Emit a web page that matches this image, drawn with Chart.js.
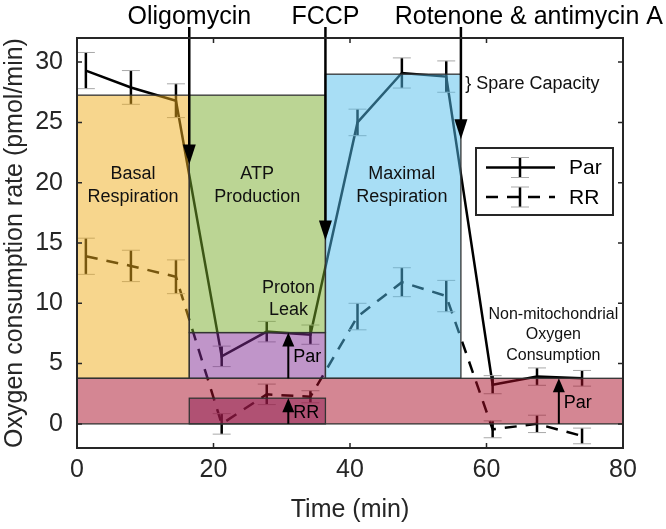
<!DOCTYPE html>
<html>
<head>
<meta charset="utf-8">
<script src="https://cdn.jsdelivr.net/npm/chart.js@4/dist/chart.umd.min.js"></script>
<style>
  html, body { margin: 0; padding: 0; background: #fff; }
</style>
</head>
<body>
<canvas id="chart" width="666" height="529"></canvas>
<script>
// measurement times (min)
const times = [1.3, 7.9, 14.5, 21.2, 27.8, 34.2, 41.1, 47.6, 54.1, 60.9, 67.4, 74.0]

// oxygen consumption rate, mean and error
const parOcr = [29.3, 27.9, 26.8, 5.6, 7.65, 7.4, 25.0, 29.1, 28.8, 3.25, 3.92, 3.78]
const parErr = [1.5, 1.4, 1.4, 0.85, 0.85, 0.8, 1.1, 1.25, 1.3, 0.75, 0.72, 0.65]
const rrOcr = [13.9, 13.1, 12.2, 0.0, 2.45, 2.25, 8.9, 11.75, 10.6, -0.45, 0.0, -1.0]
const rrErr = [1.5, 1.3, 1.4, 0.85, 0.85, 0.5, 1.1, 1.2, 1.3, 0.7, 0.72, 0.65]

const xTicks = [0, 20, 40, 60, 80]
const yTicks = [0, 5, 10, 15, 20, 25, 30]

// injections
const injections = ['Oligomycin', 'FCCP', 'Rotenone & antimycin A']
const injectionTimes = [16.45, 36.4, 56.25]
const arrowTips = [21.5, 15.2, 23.6]

// shaded blocks: basal, ATP, proton leak, maximal, non-mito, RR leak
const blockStart = [0, 16.45, 16.45, 36.4, 0, 16.45]
const blockEnd = [16.45, 36.4, 36.4, 56.25, 80, 36.4]
const blockLow = [3.78, 7.57, 3.78, 3.78, 0, 0]
const blockHigh = [27.26, 27.26, 7.57, 29.0, 3.78, 2.13]

// little up arrows (Par / RR levels)
const levelLabels = ['Par', 'RR', 'Par']
const levelX = [30.96, 30.96, 70.6]
const levelLow = [3.78, 0, 0]
const levelHigh = [7.57, 2.13, 3.78]

const FONT = '"Liberation Sans", Arial, sans-serif'
const AXIS = '#262626'
const blockFill = [
  'rgba(239,173,27,0.5)',
  'rgba(119,171,41,0.5)',
  'rgba(129,43,147,0.5)',
  'rgba(81,189,235,0.5)',
  'rgba(169,13,39,0.5)',
  'rgba(142,30,83,0.5)'
]

const annotate = {
  id: 'annotate',
  afterDatasetsDraw(chart) {
    const ctx = chart.ctx
    const xs = chart.scales.x, ys = chart.scales.y
    const area = chart.chartArea
    const px = v => xs.getPixelForValue(v)
    const py = v => ys.getPixelForValue(v)

    ctx.save()
    // error bars
    const series = [[parOcr, parErr], [rrOcr, rrErr]]
    series.forEach(([vals, errs]) => {
      times.forEach((t, i) => {
        const x = px(t), top = py(vals[i] + errs[i]), bot = py(vals[i] - errs[i])
        ctx.strokeStyle = '#000'
        ctx.lineWidth = 2.5
        ctx.beginPath(); ctx.moveTo(x, top); ctx.lineTo(x, bot); ctx.stroke()
        ctx.strokeStyle = '#a8a8a8'
        ctx.lineWidth = 1
        ctx.beginPath()
        ctx.moveTo(x - 9, top); ctx.lineTo(x + 9, top)
        ctx.moveTo(x - 9, bot); ctx.lineTo(x + 9, bot)
        ctx.stroke()
      })
    })

    // shaded blocks
    blockStart.forEach((s, i) => {
      const x0 = px(s), x1 = px(blockEnd[i]), y0 = py(blockHigh[i]), y1 = py(blockLow[i])
      ctx.fillStyle = blockFill[i]
      ctx.fillRect(x0, y0, x1 - x0, y1 - y0)
    })
    ctx.strokeStyle = '#333'
    ctx.lineWidth = 1.3
    blockStart.forEach((s, i) => {
      const x0 = px(s), x1 = px(blockEnd[i]), y0 = py(blockHigh[i]), y1 = py(blockLow[i])
      ctx.strokeRect(x0, y0, x1 - x0, y1 - y0)
    })

    // injection arrows
    ctx.fillStyle = '#000'
    ctx.strokeStyle = '#000'
    injectionTimes.forEach((t, i) => {
      const x = px(t), tip = py(arrowTips[i])
      ctx.lineWidth = 2.5
      ctx.beginPath(); ctx.moveTo(x, area.top - 11); ctx.lineTo(x, tip - 18); ctx.stroke()
      ctx.beginPath()
      ctx.moveTo(x - 6.5, tip - 20); ctx.lineTo(x + 6.5, tip - 20); ctx.lineTo(x, tip)
      ctx.closePath(); ctx.fill()
    })
    ctx.font = '25px ' + FONT
    ctx.textBaseline = 'middle'
    ctx.textAlign = 'center'
    ctx.fillText(injections[0], px(injectionTimes[0]), area.top - 21)
    ctx.fillText(injections[1], px(injectionTimes[1]), area.top - 21)
    ctx.fillText(injections[2], px(66.2), area.top - 21)

    // level arrows
    levelX.forEach((lx, i) => {
      const x = px(lx), lo = py(levelLow[i]), hi = py(levelHigh[i])
      ctx.lineWidth = 2
      ctx.beginPath(); ctx.moveTo(x, lo); ctx.lineTo(x, hi + 12); ctx.stroke()
      ctx.beginPath()
      ctx.moveTo(x - 6, hi + 14); ctx.lineTo(x + 6, hi + 14); ctx.lineTo(x, hi)
      ctx.closePath(); ctx.fill()
      ctx.font = '18px ' + FONT
      ctx.textAlign = 'left'
      ctx.fillText(levelLabels[i], x + 5, (lo + hi) / 2 + 2)
    })

    // block captions
    const notes = [
      { text: ['Basal', 'Respiration'], x: 8.2, y: 19.8, size: 18, gap: 23 },
      { text: ['ATP', 'Production'], x: 26.4, y: 19.8, size: 18, gap: 23 },
      { text: ['Maximal', 'Respiration'], x: 47.6, y: 19.8, size: 18, gap: 23 },
      { text: ['Proton', 'Leak'], x: 31.0, y: 10.37, size: 18, gap: 22 },
      { text: ['Non-mitochondrial', 'Oxygen', 'Consumption'], x: 69.8, y: 7.37, size: 16, gap: 20.5 }
    ]
    ctx.textAlign = 'center'
    ctx.fillStyle = '#111'
    notes.forEach(n => {
      ctx.font = n.size + 'px ' + FONT
      const cy = py(n.y), n0 = (n.text.length - 1) / 2
      n.text.forEach((line, k) => ctx.fillText(line, px(n.x), cy + (k - n0) * n.gap))
    })
    ctx.textAlign = 'left'
    ctx.font = '18px ' + FONT
    ctx.fillText('} Spare Capacity', px(56.9), py(28.2))

    // legend
    const lx = area.right - 147, ly = area.top + 110
    ctx.fillStyle = '#fff'
    ctx.fillRect(lx, ly, 137, 67)
    ctx.strokeStyle = AXIS
    ctx.lineWidth = 2
    ctx.strokeRect(lx, ly, 137, 67)
    chart.data.datasets.forEach((ds, i) => {
      const y = ly + 19.5 + i * 29.5
      ctx.strokeStyle = '#000'
      ctx.lineWidth = 2.5
      ctx.setLineDash(ds.borderDash || [])
      ctx.beginPath(); ctx.moveTo(lx + 10, y); ctx.lineTo(lx + 79, y); ctx.stroke()
      ctx.setLineDash([])
      ctx.beginPath(); ctx.moveTo(lx + 44, y - 10); ctx.lineTo(lx + 44, y + 10); ctx.stroke()
      ctx.strokeStyle = '#a8a8a8'
      ctx.lineWidth = 1
      ctx.beginPath()
      ctx.moveTo(lx + 35, y - 10); ctx.lineTo(lx + 53, y - 10)
      ctx.moveTo(lx + 35, y + 10); ctx.lineTo(lx + 53, y + 10)
      ctx.stroke()
      ctx.fillStyle = '#000'
      ctx.font = '21px ' + FONT
      ctx.textAlign = 'left'
      ctx.fillText(ds.label, lx + 93, y + 1)
    })

    // axes box with inward ticks
    ctx.strokeStyle = AXIS
    ctx.lineWidth = 2
    ctx.strokeRect(area.left, area.top, area.right - area.left, area.bottom - area.top)
    ctx.lineWidth = 1.5
    ctx.beginPath()
    xTicks.forEach(v => {
      const x = px(v)
      ctx.moveTo(x, area.bottom); ctx.lineTo(x, area.bottom - 5)
      ctx.moveTo(x, area.top); ctx.lineTo(x, area.top + 5)
    })
    yTicks.forEach(v => {
      const y = py(v)
      ctx.moveTo(area.left, y); ctx.lineTo(area.left + 5, y)
      ctx.moveTo(area.right, y); ctx.lineTo(area.right - 5, y)
    })
    ctx.stroke()
    ctx.restore()
  }
}

new Chart(document.getElementById('chart'), {
  type: 'line',
  data: {
    datasets: [
      {
        label: 'Par',
        data: times.map((t, i) => ({ x: t, y: parOcr[i] })),
        borderColor: '#000',
        borderWidth: 2.5,
        pointRadius: 0,
        tension: 0
      },
      {
        label: 'RR',
        data: times.map((t, i) => ({ x: t, y: rrOcr[i] })),
        borderColor: '#000',
        borderWidth: 2.5,
        borderDash: [12, 9],
        pointRadius: 0,
        tension: 0
      }
    ]
  },
  options: {
    responsive: false,
    animation: false,
    layout: { padding: { top: 38, right: 43, left: 0, bottom: 0 } },
    plugins: { legend: { display: false }, tooltip: { enabled: false } },
    scales: {
      x: {
        type: 'linear',
        min: 0,
        max: 80,
        afterBuildTicks: s => { s.ticks = xTicks.map(v => ({ value: v })) },
        afterFit: s => { s.height = 81 },
        grid: { display: false, drawTicks: false },
        border: { display: false },
        ticks: { font: { family: FONT, size: 25 }, color: AXIS, padding: 7, maxRotation: 0 },
        title: { display: true, text: 'Time (min)', font: { family: FONT, size: 25 }, color: AXIS, padding: { top: 0, bottom: 4 } }
      },
      y: {
        type: 'linear',
        min: -2,
        max: 32,
        afterBuildTicks: s => { s.ticks = yTicks.map(v => ({ value: v })) },
        afterFit: s => { s.width = 77 },
        grid: { display: false, drawTicks: false },
        border: { display: false },
        ticks: { font: { family: FONT, size: 25 }, color: AXIS, padding: 14 },
        title: { display: true, text: 'Oxygen consumption rate (pmol/min)', font: { family: FONT, size: 25 }, color: AXIS, padding: { top: 0, bottom: 0 } }
      }
    }
  },
  plugins: [annotate]
})
</script>
</body>
</html>
